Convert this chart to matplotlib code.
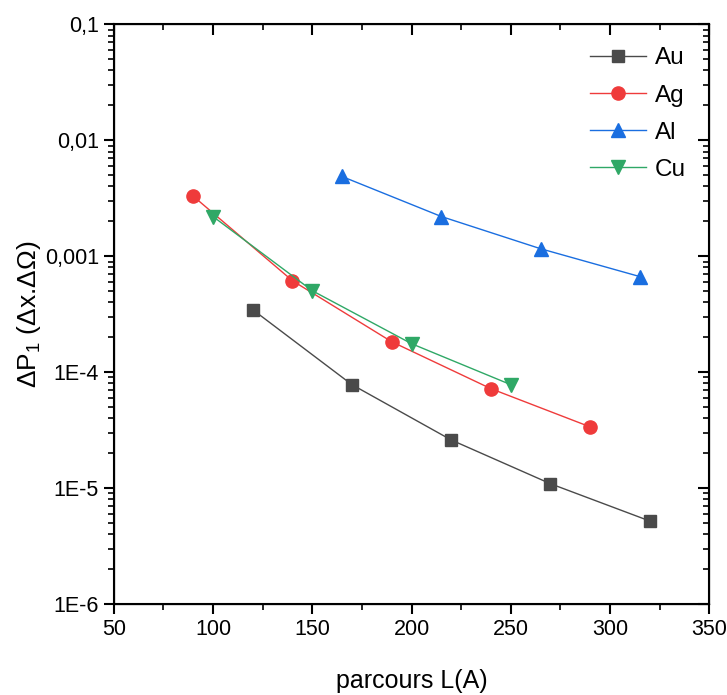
import matplotlib
matplotlib.use("Agg")
import matplotlib.pyplot as plt
from matplotlib.ticker import NullFormatter, MultipleLocator, LogLocator

plt.rcParams['font.family'] = ['Liberation Sans', 'DejaVu Sans']
plt.rcParams['mathtext.fontset'] = 'custom'
plt.rcParams['mathtext.rm'] = 'Liberation Sans'
plt.rcParams['mathtext.it'] = 'Liberation Sans'
plt.rcParams['mathtext.bf'] = 'Liberation Sans'

au_x = [120, 170, 220, 270, 320]
au_y = [3.46e-4, 7.8e-5, 2.6e-5, 1.09e-5, 5.2e-6]
ag_x = [90, 140, 190, 240, 290]
ag_y = [3.3e-3, 6.15e-4, 1.83e-4, 7.2e-5, 3.37e-5]
al_x = [165, 215, 265, 315]
al_y = [4.87e-3, 2.2e-3, 1.16e-3, 6.67e-4]
cu_x = [100, 150, 200, 250]
cu_y = [2.2e-3, 5.04e-4, 1.76e-4, 7.8e-5]

y_ticks = [1e-6, 1e-5, 1e-4, 1e-3, 1e-2, 1e-1]
y_ticklabels = ['1E-6', '1E-5', '1E-4', '0,001', '0,01', '0,1']
x_ticks = [50, 100, 150, 200, 250, 300, 350]

fig = plt.figure(figsize=(7.27, 6.95), dpi=100)
ax = fig.add_axes([0.1564, 0.1309, 0.8193, 0.8341])

ax.plot(au_x, au_y, color='#4a4a4a', lw=1.0, marker='s', ms=8.5, label='Au')
ax.plot(ag_x, ag_y, color='#ef3b3b', lw=1.0, marker='o', ms=9.5, label='Ag')
ax.plot(al_x, al_y, color='#1a6ee0', lw=1.0, marker='^', ms=10.5, label='Al')
ax.plot(cu_x, cu_y, color='#2fa866', lw=1.0, marker='v', ms=10.5, label='Cu')

ax.set_yscale('log')
ax.set_ylim(1e-6, 1e-1)
ax.set_xlim(50, 350)
ax.set_yticks(y_ticks)
ax.set_yticklabels(y_ticklabels)
ax.yaxis.set_minor_locator(LogLocator(base=10, subs=range(2, 10)))
ax.yaxis.set_minor_formatter(NullFormatter())
ax.set_xticks(x_ticks)
ax.xaxis.set_minor_locator(MultipleLocator(25))

for s in ax.spines.values():
    s.set_linewidth(1.5)

ax.tick_params(axis='both', which='major', labelsize=15.5, length=7, width=1.5,
               direction='out', top=False, right=False)
ax.tick_params(axis='both', which='minor', length=4, width=1.2, direction='out',
               top=False, right=False)

# inward ticks on top and right
axt = ax.twiny()
axt.set_xlim(ax.get_xlim())
axt.set_xticks(x_ticks)
axt.xaxis.set_minor_locator(MultipleLocator(25))
axt.tick_params(which='major', direction='in', length=8, width=1.5, labeltop=False)
axt.tick_params(which='minor', direction='in', length=4.5, width=1.2)

axr = ax.twinx()
axr.set_yscale('log')
axr.set_ylim(ax.get_ylim())
axr.set_yticks(y_ticks)
axr.yaxis.set_minor_locator(LogLocator(base=10, subs=range(2, 10)))
axr.yaxis.set_minor_formatter(NullFormatter())
axr.tick_params(which='major', direction='in', length=8, width=1.5, labelright=False)
axr.tick_params(which='minor', direction='in', length=4.5, width=1.2)

ax.set_xlabel('parcours L(A)', fontsize=18, labelpad=21)
ax.set_ylabel(r'$\Delta$P$_1$ ($\Delta$x.$\Delta\Omega$)', fontsize=19)
ax.yaxis.set_label_coords(-0.118, 0.5)

leg = ax.legend(loc='upper right', fontsize=17.5, frameon=False, handlelength=2.3,
                handletextpad=0.4, labelspacing=0.62, borderaxespad=0.55)
ax.set_zorder(axt.get_zorder() + 2)
ax.patch.set_visible(False)

fig.savefig('out.png', dpi=100)
